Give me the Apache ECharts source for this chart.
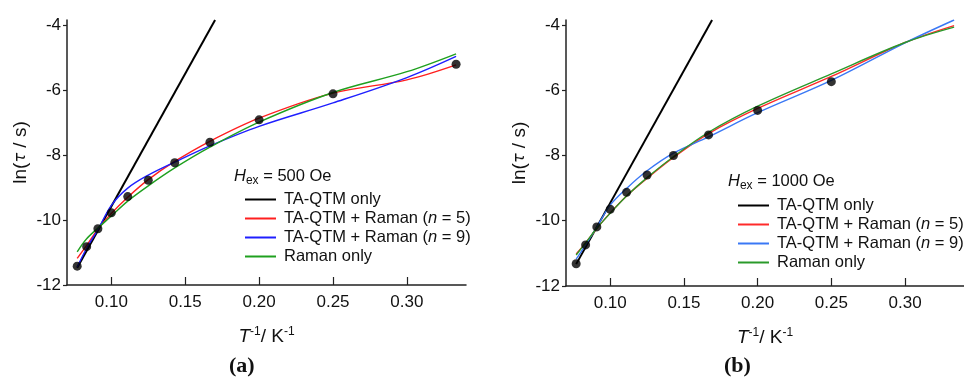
<!DOCTYPE html>
<html>
<head>
<meta charset="utf-8">
<script src="https://cdn.jsdelivr.net/npm/echarts@6.0.0/dist/echarts.min.js"></script>
<style>
  html, body { margin: 0; padding: 0; background: #fff; }
  #chart { width: 964px; height: 381px; }
</style>
</head>
<body>
<div id="chart"></div>
<script>
// measured points, x = 1/T
const invT = [0.0769, 0.0833, 0.0909, 0.1000, 0.1111, 0.1250, 0.1429, 0.1667, 0.2000, 0.2500, 0.3333];
const lnTauA = [-11.42, -10.82, -10.27, -9.78, -9.28, -8.78, -8.24, -7.61, -6.92, -6.12, -5.21];
const lnTauB = [-11.32, -10.74, -10.19, -9.65, -9.13, -8.60, -8.00, -7.37, -6.62, -5.74, -3.80];

// fitted curves
const fitX = [0.0769, 0.0833, 0.0909, 0.1000, 0.1111, 0.1250, 0.1429, 0.1667, 0.2000, 0.2500, 0.3000, 0.3333];
const redA = [-11.18, -10.78, -10.28, -9.80, -9.30, -8.76, -8.20, -7.58, -6.87, -6.10, -5.69, -5.23];
const blueA = [-11.45, -10.87, -10.30, -9.55, -9.02, -8.62, -8.22, -7.72, -7.12, -6.40, -5.62, -4.97];
const greenA = [-10.98, -10.58, -10.25, -9.88, -9.42, -8.95, -8.40, -7.76, -6.99, -6.08, -5.44, -4.89];
const redB = [-11.02, -10.68, -10.24, -9.76, -9.24, -8.70, -8.06, -7.33, -6.56, -5.58, -4.54, -4.02];
const blueB = [-11.18, -10.74, -10.20, -9.52, -9.01, -8.47, -7.93, -7.43, -6.69, -5.70, -4.55, -3.85];
const greenB = [-11.05, -10.68, -10.23, -9.77, -9.24, -8.68, -8.04, -7.29, -6.49, -5.50, -4.54, -4.07];

// TA-QTM only straight lines (start / top end)
const blackAX = [0.0769, 0.1702];
const blackAY = [-11.47, -3.85];
const blackBX = [0.0769, 0.1691];
const blackBY = [-11.33, -3.85];

const xTicks = [0.10, 0.15, 0.20, 0.25, 0.30];
const yTicks = [-12, -10, -8, -6, -4];
const names = ['TA-QTM only', 'TA-QTM + Raman (n = 5)', 'TA-QTM + Raman (n = 9)', 'Raman only'];
const fieldA = '500 Oe';
const fieldB = '1000 Oe';

const FONT = 'Liberation Sans, Arial, sans-serif';
const colorsA = ['#000000', '#ff1f1f', '#1f1fff', '#1fa01f'];
const colorsB = ['#000000', '#ff2a2a', '#3a78f5', '#2a9a2a'];

function pairs(xs, ys) {
  return xs.map(function (x, i) { return [x, ys[i]]; });
}

function xAxisFor(idx) {
  return {
    type: 'value', gridIndex: idx, min: 0.07, max: 0.34,
    axisLine: { lineStyle: { color: '#222', width: 1.5 } },
    axisTick: { inside: true, length: 8, customValues: xTicks, lineStyle: { color: '#222', width: 1.2 } },
    axisLabel: { customValues: xTicks, margin: 9, fontSize: 17, color: '#111', fontFamily: FONT,
      formatter: function (v) { return v.toFixed(2); } },
    splitLine: { show: false },
    name: '{i|T}{s|-1}{a|/ K}{s|-1}',
    nameLocation: 'middle', nameGap: 41,
    nameTextStyle: {
      fontFamily: FONT, color: '#111', fontSize: 18,
      rich: {
        i: { fontStyle: 'italic', fontSize: 19, fontFamily: FONT, color: '#111', lineHeight: 22 },
        a: { fontSize: 19, fontFamily: FONT, color: '#111', lineHeight: 22 },
        s: { fontSize: 12, fontFamily: FONT, color: '#111', verticalAlign: 'top', lineHeight: 22 }
      }
    }
  };
}

function yAxisFor(idx) {
  return {
    type: 'value', gridIndex: idx, min: -12, max: -3.85,
    axisLine: { show: true, lineStyle: { color: '#222', width: 1.5 } },
    axisTick: { show: true, length: 4, customValues: yTicks, lineStyle: { color: '#222', width: 1.2 } },
    axisLabel: { customValues: yTicks, margin: 6, fontSize: 17, color: '#111', fontFamily: FONT },
    splitLine: { show: false },
    name: 'ln({i|τ} / s)',
    nameLocation: 'middle', nameGap: 37,
    nameTextStyle: {
      fontFamily: FONT, color: '#111', fontSize: 19,
      rich: { i: { fontStyle: 'italic', fontSize: 16, fontFamily: 'DejaVu Sans', color: '#111' } }
    }
  };
}

function panelSeries(idx, pts, bx, by, red, blue, green, colors) {
  const fits = [red, blue, green];
  const out = [{
    name: names[0], type: 'line', xAxisIndex: idx, yAxisIndex: idx,
    data: pairs(bx, by), showSymbol: false, lineStyle: { color: colors[0], width: 2 },
    itemStyle: { color: colors[0] }, z: 2
  }];
  fits.forEach(function (f, k) {
    out.push({
      name: names[k + 1], type: 'line', xAxisIndex: idx, yAxisIndex: idx,
      data: pairs(fitX, f), smooth: 0.35, showSymbol: false,
      lineStyle: { color: colors[k + 1], width: 1.4 }, itemStyle: { color: colors[k + 1] }, z: 3
    });
  });
  out.push({
    type: 'scatter', xAxisIndex: idx, yAxisIndex: idx, data: pairs(invT, pts),
    symbolSize: 9, itemStyle: { color: '#000' }, z: 5
  });
  return out;
}

function legendFor(left, top, colors) {
  return {
    orient: 'vertical', left: left, top: top, itemWidth: 31, itemHeight: 2, itemGap: 0,
    icon: 'rect', selectedMode: false, padding: 0,
    data: names.map(function (n, i) { return { name: n, itemStyle: { color: colors[i] } }; }),
    formatter: function (n) { return n.replace('(n', '({i|n}'); },
    textStyle: {
      fontSize: 16.5, fontFamily: FONT, color: '#111', lineHeight: 19, padding: [0, 0, 0, 3],
      rich: { i: { fontStyle: 'italic', fontSize: 16.5, fontFamily: FONT, color: '#111' } }
    }
  };
}

function fieldLabel(x, y, txt) {
  return {
    type: 'text', left: x, top: y,
    style: {
      text: '{i|H}{s|ex}{a| = ' + txt + '}',
      rich: {
        i: { fontStyle: 'italic', fontSize: 16.5, fontFamily: FONT, fill: '#111', lineHeight: 20 },
        s: { fontSize: 12, fontFamily: FONT, fill: '#111', verticalAlign: 'bottom', lineHeight: 20 },
        a: { fontSize: 16.5, fontFamily: FONT, fill: '#111', lineHeight: 20 }
      }
    }
  };
}

const chart = echarts.init(document.getElementById('chart'));
const option = {
  animation: false,
  backgroundColor: '#fff',
  grid: [
    { left: 67, top: 20, width: 399, height: 265 },
    { left: 566, top: 20, width: 398, height: 266 }
  ],
  xAxis: [xAxisFor(0), xAxisFor(1)],
  yAxis: [yAxisFor(0), yAxisFor(1)],
  legend: [legendFor(245, 190, colorsA), legendFor(738, 196, colorsB)],
  graphic: [
    fieldLabel(234, 168, fieldA),
    fieldLabel(728, 173, fieldB),
    { type: 'text', left: 229, top: 355, style: { text: '(a)', font: 'bold 22px "Liberation Serif", serif', fill: '#111' } },
    { type: 'text', left: 724, top: 355, style: { text: '(b)', font: 'bold 22px "Liberation Serif", serif', fill: '#111' } }
  ],
  series: [].concat(
    panelSeries(0, lnTauA, blackAX, blackAY, redA, blueA, greenA, colorsA),
    panelSeries(1, lnTauB, blackBX, blackBY, redB, blueB, greenB, colorsB)
  )
};
chart.setOption(option);
</script>
</body>
</html>
